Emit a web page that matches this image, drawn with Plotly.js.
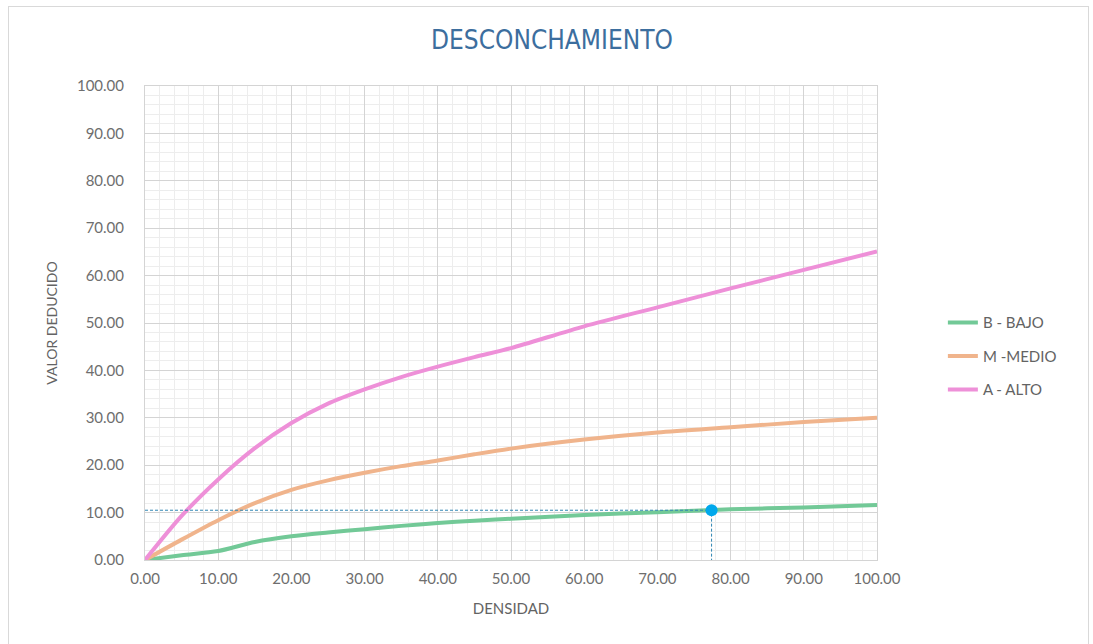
<!DOCTYPE html>
<html>
<head>
<meta charset="utf-8">
<script src="https://cdn.plot.ly/plotly-3.0.1.min.js"></script>
<style>
  html, body { margin: 0; padding: 0; background: #ffffff; }
  #wrap { position: relative; width: 1093px; height: 644px; overflow: hidden; }
  #chart { position: absolute; left: 0; top: 0; width: 1093px; height: 644px; }
  #frame { position: absolute; left: 8px; top: 6px; width: 1079px; height: 660px; border: 1px solid #d9d9d9; pointer-events: none; }
</style>
</head>
<body>
<div id="wrap">
  <div id="chart"></div>
  <div id="frame"></div>
</div>
<script>
// ---- data ----
const densidad = [0, 5, 10, 15, 20, 25, 30, 35, 40, 45, 50, 60, 70, 80, 90, 100];
const bajo  = [0, 1.0, 1.9, 3.8, 5.0, 5.8, 6.5, 7.2, 7.8, 8.3, 8.7, 9.5, 10.1, 10.7, 11.1, 11.6];
const medio = [0, 4.3, 8.4, 12.0, 14.8, 16.8, 18.4, 19.8, 21.0, 22.3, 23.5, 25.4, 26.9, 28.0, 29.1, 30.0];
const alto  = [0, 9.3, 17.0, 23.6, 28.9, 33.0, 36.0, 38.6, 40.8, 42.8, 44.7, 49.3, 53.3, 57.3, 61.2, 65.1];
const seriesNames = ["B - BAJO", "M -MEDIO", "A - ALTO"];
const lectura = { densidad: 77.4, valor: 10.5 };  // point read on the chart
const chartTitle = "DESCONCHAMIENTO";
const xTitle = "DENSIDAD";
const yTitle = "VALOR DEDUCIDO";

const colors = ["#72c997", "#f0b48c", "#ee90d8"];
const ys = [bajo, medio, alto];

const traces = ys.map((y, i) => ({
  type: "scatter", mode: "lines",
  x: densidad, y: y, name: seriesNames[i],
  legendgroup: "g" + i,
  line: { color: colors[i], width: 4, shape: "spline", smoothing: 0.8 },
  hoverinfo: "x+y"
}));

// guide lines to the read point
traces.push({
  type: "scatter", mode: "lines",
  x: [0, lectura.densidad, lectura.densidad],
  y: [lectura.valor, lectura.valor, 0],
  line: { color: "#2f86b3", width: 1, dash: "3px,2px" },
  showlegend: false, hoverinfo: "skip"
});
traces.push({
  type: "scatter", mode: "markers",
  x: [lectura.densidad], y: [lectura.valor],
  marker: { color: "#00a8ec", size: 12 },
  showlegend: false
});

const FONT = "Lato, 'Open Sans', sans-serif";
const axisCommon = {
  range: [0, 100], dtick: 10, tick0: 0, tickformat: ".2f",
  showgrid: true, gridcolor: "#d4d4d4", gridwidth: 1,
  zeroline: false, showline: true, linecolor: "#d4d4d4", mirror: true,
  ticks: "", fixedrange: true,
  tickfont: { family: FONT, size: 15, color: "#6e6e6e" },
  minor: { dtick: 2, showgrid: true, gridcolor: "#ededed", gridwidth: 1 }
};

const layout = {
  width: 1093, height: 644,
  paper_bgcolor: "rgba(0,0,0,0)", plot_bgcolor: "#ffffff",
  margin: { l: 145, r: 216, t: 86, b: 84 },
  title: {
    text: chartTitle, x: 0.505, xref: "container", y: 0.938, yref: "container", yanchor: "middle",
    font: { family: "'DejaVu Sans Condensed', 'DejaVu Sans', sans-serif", size: 26, color: "#3c6e9e" }
  },
  xaxis: Object.assign({}, axisCommon, {
    ticklabelstandoff: 5,
    title: { text: xTitle, standoff: 17, font: { family: FONT, size: 15, color: "#636363" } }
  }),
  yaxis: Object.assign({}, axisCommon, {
    ticklabelstandoff: 17,
    title: { text: yTitle, standoff: 16, font: { family: FONT, size: 14, color: "#636363" } }
  }),
  legend: {
    x: 1.09, xanchor: "left", y: 0.43, yanchor: "middle",
    font: { family: FONT, size: 15, color: "#636363" },
    tracegroupgap: 11, bgcolor: "rgba(0,0,0,0)"
  },
  showlegend: true
};

Plotly.newPlot("chart", traces, layout, { displayModeBar: false, staticPlot: true });
</script>
</body>
</html>
